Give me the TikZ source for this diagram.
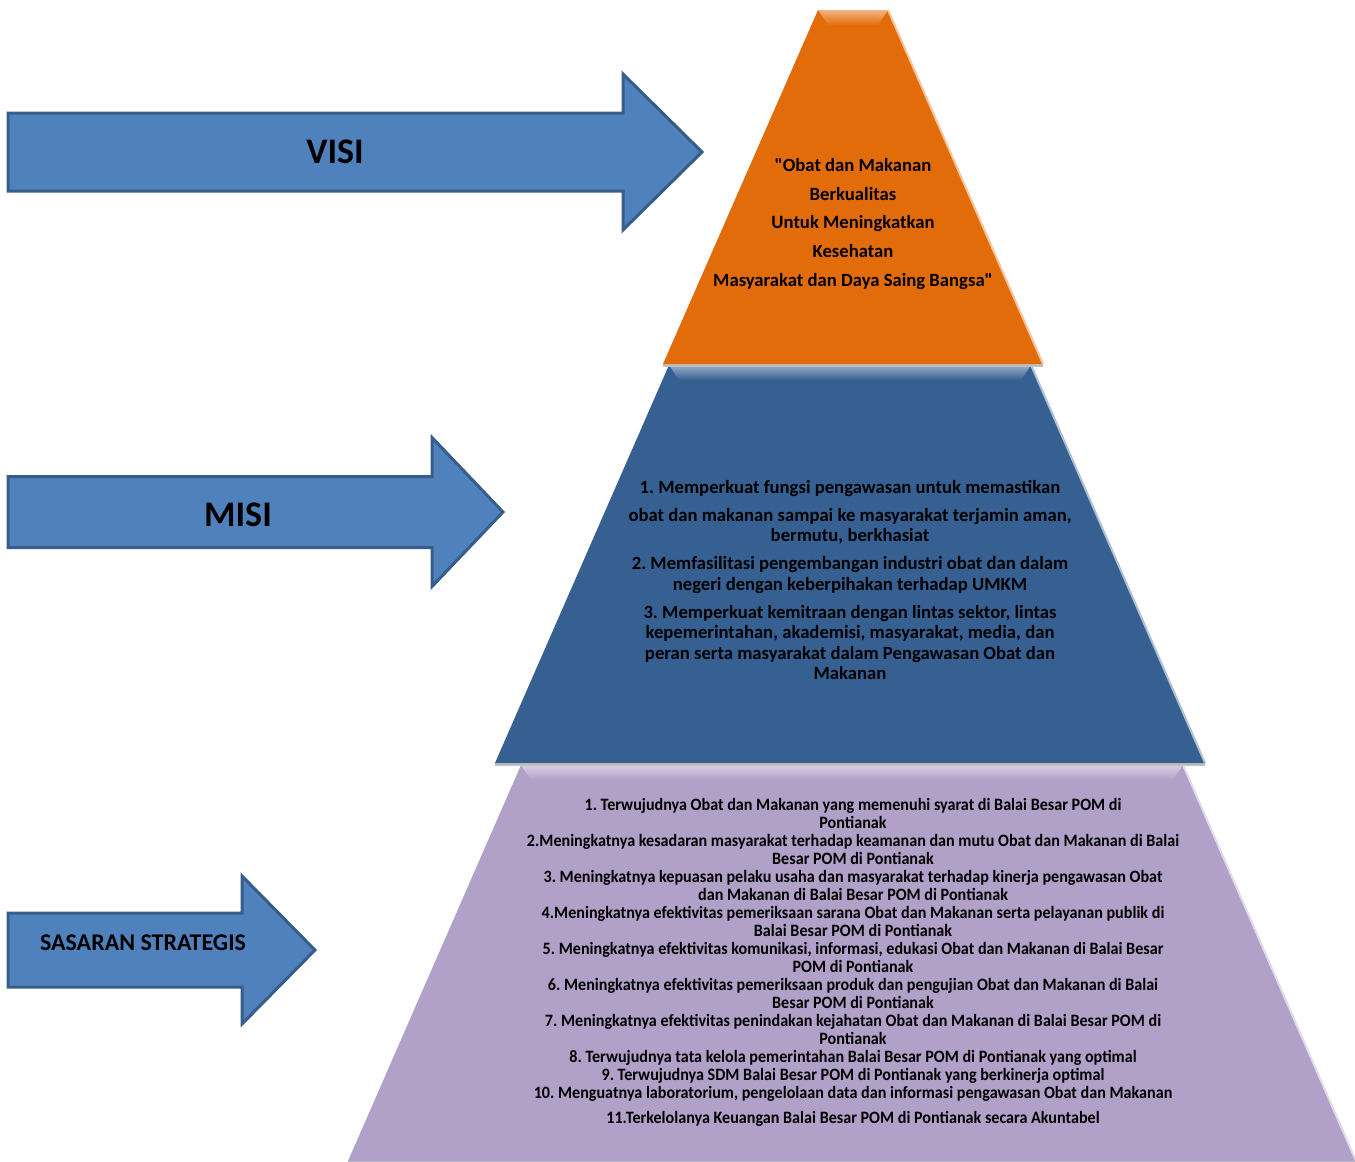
\documentclass[tikz,border=0pt]{standalone}
\usepackage{fontspec}
\setmainfont{Carlito}
\newfontfamily\narrowfont[FakeStretch=0.93]{Carlito}
\frenchspacing

\definecolor{arrowfill}{HTML}{4F81BD}
\definecolor{arrowline}{HTML}{385D8A}
\definecolor{visiorange}{HTML}{E36C0A}
\definecolor{misiblue}{HTML}{366092}
\definecolor{sasaranlilac}{HTML}{B1A0C7}

% block arrow: name, left x, middle y, body half height, head base x, head half height, tip x
\newcommand{\blockarrow}[7]{
  \coordinate (#1a) at (#2,#3-#4);
  \coordinate (#1b) at (#5,#3-#4);
  \coordinate (#1c) at (#5,#3-#6);
  \coordinate (#1d) at (#7,#3);
  \coordinate (#1e) at (#5,#3+#6);
  \coordinate (#1f) at (#5,#3+#4);
  \coordinate (#1g) at (#2,#3+#4);

  \draw [arrowline,line width=2.25pt,fill=arrowfill,line join=miter] (#1a) -- (#1b) -- (#1c) -- (#1d) -- (#1e) -- (#1f) -- (#1g) -- cycle;
}

% pyramid tier: name, colour, centre x, top y, bottom y, top half width, bottom half width
\newcommand{\tier}[7]{
  \coordinate (#1tl) at (#3-#6,#4);
  \coordinate (#1tr) at (#3+#6,#4);
  \coordinate (#1br) at (#3+#7,#5);
  \coordinate (#1bl) at (#3-#7,#5);
  \coordinate (#1il) at (#3-#6+10,#4+15);
  \coordinate (#1ir) at (#3+#6-10,#4+15);

  \fill [black!25] ([yshift=-2pt]#1bl) -- ([yshift=-2pt]#1br) -- (#1br) -- (#1bl) -- cycle;
  \fill [#2] (#1tl) -- (#1tr) -- (#1br) -- (#1bl) -- cycle;
  \shade [top color=#2!50!white,bottom color=#2] (#1tl) -- (#1tr) -- (#1ir) -- (#1il) -- cycle;
  \draw [#2!40!white,line width=1.5pt] (#1tr) -- (#1br);
}

\begin{document}
\begin{tikzpicture}[x=0.75pt,y=-0.75pt]
  \useasboundingbox (0,0) rectangle (1355,1161);

  \tier{sasaran}{sasaranlilac}{852}{765}{1161}{331}{504}
  \tier{misi}{misiblue}{850}{365}{763}{181}{355}
  \tier{visi}{visiorange}{853}{10}{364}{35}{190}

  \blockarrow{visiarr}{8}{152}{39}{623}{78}{702}
  \blockarrow{misiarr}{8}{512}{35.5}{432}{74.5}{503}
  \blockarrow{sasaranarr}{8}{950}{37}{242}{74}{315}

  \node (visilabel) [anchor=center,font=\bfseries\fontsize{27}{30}\selectfont] at (335,152) {VISI};
  \node (misilabel) [anchor=center,font=\bfseries\fontsize{27}{30}\selectfont] at (238,515) {MISI};
  \node (sasaranlabel) [anchor=center,font=\bfseries\fontsize{18}{20}\selectfont] at (143,943) {SASARAN STRATEGIS};

  \node (visitext) [anchor=center,align=center,font=\bfseries\fontsize{14}{21.4}\selectfont] at (853,224)
    {\textquotedbl Obat dan Makanan\\Berkualitas\\Untuk Meningkatkan\\Kesehatan\\Masyarakat dan Daya Saing Bangsa\textquotedbl};

  \node (misitext) [anchor=center,align=center,font=\bfseries\fontsize{14}{15.4}\selectfont] at (850,580)
    {1. Memperkuat fungsi pengawasan untuk memastikan\\[5.6pt]
     obat dan makanan sampai ke masyarakat terjamin aman,\\bermutu, berkhasiat\\[5.6pt]
     2. Memfasilitasi pengembangan industri obat dan dalam\\negeri dengan keberpihakan terhadap UMKM\\[5.6pt]
     3. Memperkuat kemitraan dengan lintas sektor, lintas\\kepemerintahan, akademisi, masyarakat, media, dan\\peran serta masyarakat dalam Pengawasan Obat dan\\Makanan};

  \node (sasarantext) [anchor=center,align=center,font=\narrowfont\bfseries\fontsize{13}{13.5}\selectfont] at (853,962)
    {1. Terwujudnya Obat dan Makanan yang memenuhi syarat di Balai Besar POM di\\Pontianak\\
     2.Meningkatnya kesadaran masyarakat terhadap keamanan dan mutu Obat dan Makanan di Balai\\Besar POM di Pontianak\\
     3. Meningkatnya kepuasan pelaku usaha dan masyarakat terhadap kinerja pengawasan Obat\\dan Makanan di Balai Besar POM di Pontianak\\
     4.Meningkatnya efektivitas pemeriksaan sarana Obat dan Makanan serta pelayanan publik di\\Balai Besar POM di Pontianak\\
     5. Meningkatnya efektivitas komunikasi, informasi, edukasi Obat dan Makanan di Balai Besar\\POM di Pontianak\\
     6. Meningkatnya efektivitas pemeriksaan produk dan pengujian Obat dan Makanan di Balai\\Besar POM di Pontianak\\
     7. Meningkatnya efektivitas penindakan kejahatan Obat dan Makanan di Balai Besar POM di\\Pontianak\\
     8. Terwujudnya tata kelola pemerintahan Balai Besar POM di Pontianak yang optimal\\
     9. Terwujudnya SDM Balai Besar POM di Pontianak yang berkinerja optimal\\
     10. Menguatnya laboratorium, pengelolaan data dan informasi pengawasan Obat dan Makanan\\[5.3pt]
     11.Terkelolanya Keuangan Balai Besar POM di Pontianak secara Akuntabel};
\end{tikzpicture}
\end{document}
